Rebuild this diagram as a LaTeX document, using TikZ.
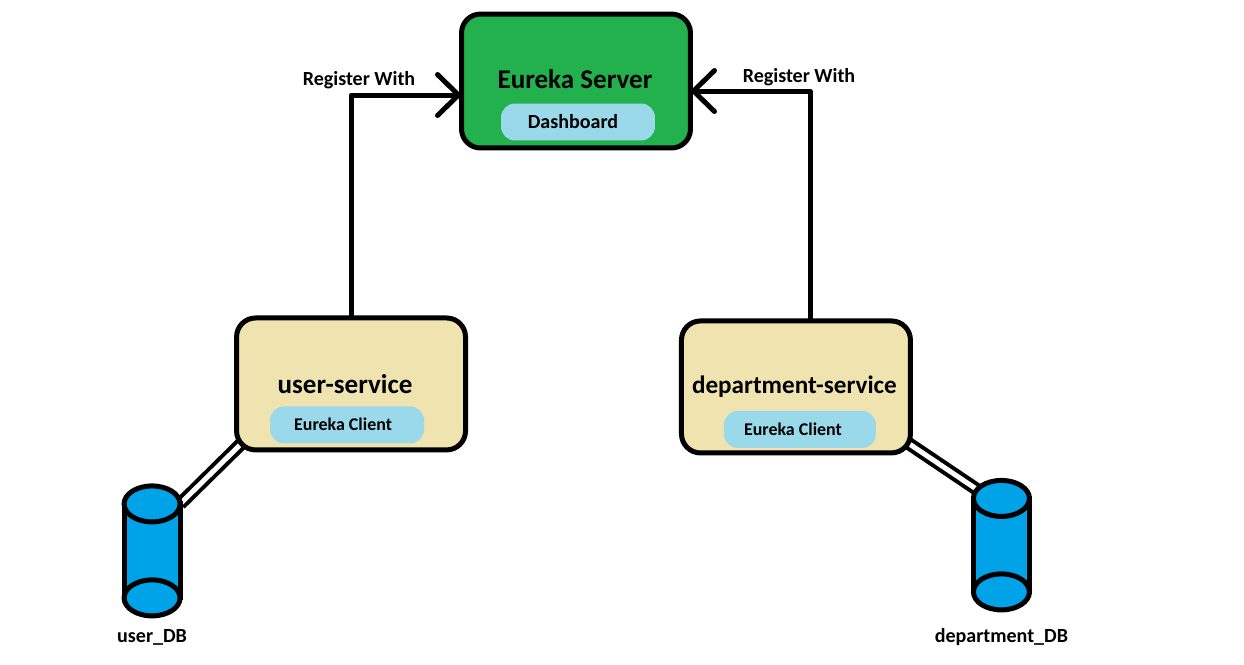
\documentclass[tikz,border=0pt]{standalone}
\usepackage{fontspec}
\setmainfont{Carlito}
\usetikzlibrary{arrows.meta, positioning, shapes.geometric, backgrounds}

\definecolor{serverGreen}{HTML}{22B14C}
\definecolor{serviceTan}{HTML}{EFE4B0}
\definecolor{pillBlue}{HTML}{99D9EA}
\definecolor{dbBlue}{HTML}{00A2E8}

\tikzset{
    mainBox/.style={draw, line width=0.1cm, rounded corners=0.38cm, minimum width=4.58cm, inner sep=0pt},
    pill/.style={fill=pillBlue, rounded corners=0.28cm, minimum width=3.08cm, minimum height=0.74cm, inner sep=0pt},
    dbCap/.style={draw, fill=dbBlue, ellipse, line width=0.1cm, outer sep=0pt, minimum width=1.12cm, minimum height=0.72cm, inner sep=0pt},
    dbBody/.style={draw, fill=dbBlue, line width=0.1cm},
    dbLink/.style={draw, double, line width=0.08cm, double distance=0.1cm},
    register/.style={line width=0.1cm, line cap=round, line join=round, -{Straight Barb[length=0.42cm, width=0.82cm, round]}},
    title/.style={font=\bfseries\fontsize{15.4}{17}\selectfont, inner sep=0pt},
    caption/.style={font=\bfseries\fontsize{11.4}{13}\selectfont, inner sep=0pt},
    small/.style={font=\bfseries\fontsize{10.2}{12}\selectfont, inner sep=0pt}
}

\begin{document}
\begin{tikzpicture}[x=0.02cm, y=-0.02cm, on grid]
        \useasboundingbox (0,0) rectangle (1244,664);

        \node[mainBox, fill=serverGreen, minimum height=2.68cm] (eurekaServer) at (576,81) {};
        \node[mainBox, fill=serviceTan, minimum height=2.64cm] (userService) [below left=6.06cm and 4.5cm of eurekaServer] {};
        \node[mainBox, fill=serviceTan, minimum height=2.64cm] (departmentService) [below right=6.12cm and 4.4cm of eurekaServer] {};

        \node[title] (eurekaLabel) [above left=0.04cm and 0.02cm of eurekaServer] {Eureka Server};
        \node[pill] (dashboardPill) [below right=0.82cm and 0.04cm of eurekaServer] {};
        \node[caption] (dashboardLabel) [left=0.1cm of dashboardPill] {Dashboard};

        \node[title] (userLabel) [left=0.12cm of userService] {user-service};
        \node[pill] (userPill) [below left=0.82cm and 0.08cm of userService] {};
        \node[small] (userClient) [below left=0.8cm and 0.16cm of userService] {Eureka Client};

        \node[title, font=\bfseries\fontsize{14.3}{16}\selectfont] (departmentLabel) [left=0.03cm of departmentService] {department-service};
        \node[pill, minimum width=3.04cm] (departmentPill) [below right=0.85cm and 0.08cm of departmentService] {};
        \node[small] (departmentClient) [below left=0.85cm and 0.06cm of departmentService] {Eureka Client};

        \node[dbCap] (userTop) [below left=2.4cm and 3.98cm of userService] {};
        \node[dbCap] (userBottom) [below=1.88cm of userTop] {};
        \node[caption] (userDbLabel) [below=0.78cm of userBottom] {user\_DB};

        \node[dbCap] (departmentTop) [below right=2.23cm and 4.11cm of departmentService] {};
        \node[dbCap] (departmentBottom) [below=1.87cm of departmentTop] {};
        \node[caption] (departmentDbLabel) [below=0.9cm of departmentBottom] {department\_DB};

        \node[caption] (userRegister) at (359,80) {Register With};
        \node[caption] (departmentRegister) at (799,77) {Register With};

        \coordinate (userJoin) at (245,440);
        \coordinate (departmentJoin) at (902,439);
        \coordinate (userEntry) at (461,95);
        \coordinate (departmentEntry) at (691,91);
        \coordinate (departmentExit) at (810,319);

        \begin{pgfonlayer}{background}
            \draw[dbLink] (userJoin) -- (userTop.east);
            \draw[dbLink] (departmentJoin) -- (departmentTop.160);
            \draw[dbBody] (userTop.west) rectangle (userBottom.east);
            \draw[dbBody] (departmentTop.west) rectangle (departmentBottom.east);
        \end{pgfonlayer}

        \draw[register] (userService.north) |- (userEntry);
        \draw[register] (departmentExit) |- (departmentEntry);
\end{tikzpicture}
\end{document}
